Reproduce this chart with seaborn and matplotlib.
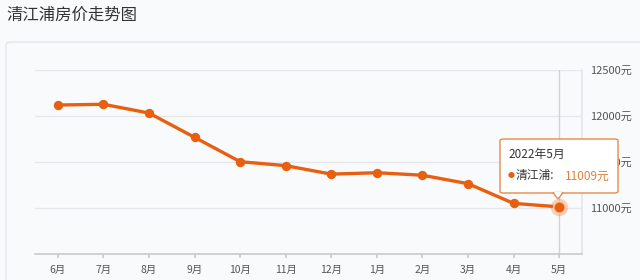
import matplotlib
matplotlib.use("Agg")
import matplotlib.pyplot as plt
import seaborn as sns
import pandas as pd
from matplotlib.patches import FancyBboxPatch, Polygon

months = ["6月", "7月", "8月", "9月", "10月", "11月", "12月", "1月", "2月", "3月", "4月", "5月"]
prices = [12116, 12124, 12029, 11765, 11500, 11457, 11365, 11380, 11353, 11261, 11047, 11009]
yticks = [11000, 11500, 12000, 12500]
title = "清江浦房价走势图"
series_name = "清江浦"
tip_title = "2022年5月"

sns.set_theme(style="white")
plt.rcParams['font.family'] = ['Noto Sans CJK SC', 'DejaVu Sans']

df = pd.DataFrame({"idx": range(len(months)), "price": prices})
color = "#e8600f"
bg = "#f9fafc"

fig = plt.figure(figsize=(6.4, 2.8), dpi=100, facecolor=bg)
# outer panel
panel = FancyBboxPatch((6/640, -0.05), 640/640, (280-42)/280 + 0.05,
                       boxstyle="round,pad=0,rounding_size=0.01",
                       transform=fig.transFigure, facecolor=bg, edgecolor="#e4e6ea", lw=1, zorder=-5)
fig.patches.append(panel)
fig.text(6/640, 1 - 15/280, title, fontsize=11.8, color="#333333", va="center", ha="left")

ax = fig.add_axes([35/640, (280-253.7)/280, (582-35)/640, (253.7-69.7)/280])
ax.set_zorder(1)
ax.patch.set_alpha(0)
sns.lineplot(data=df, x="idx", y="price", ax=ax, color=color, lw=2.4,
             marker="o", markersize=6, markeredgecolor=color, zorder=3)
last = len(months) - 1
ax.scatter([last], [prices[last]], s=160, color=color, alpha=0.25, zorder=4, linewidths=0)
ax.scatter([last], [prices[last]], s=70, color=color, zorder=5, edgecolors="#f7c9a6", linewidths=1.2)

ax.set_xlim(-0.5, len(months) - 0.5)
ax.set_ylim(10500, 12500)
for y in yticks:
    ax.axhline(y, color="#e6e7ea", lw=1, zorder=1)
ax.axvline(last, color="#d0d2d6", lw=1, zorder=2)

ax.set_xticks(range(len(months)))
ax.set_xticklabels(months, fontsize=7.5, color="#555555")
ax.yaxis.tick_right()
ax.set_yticks(yticks)
ax.set_yticklabels([f"{v}元" for v in yticks], fontsize=8, color="#555555")
ax.tick_params(axis="y", length=0, pad=6)
ax.tick_params(axis="x", length=3, color="#cccccc", direction="out", bottom=True, pad=5)
for s in ["top", "left"]:
    ax.spines[s].set_visible(False)
ax.spines["right"].set_color("#e6e7ea")
ax.spines["bottom"].set_color("#cccccc")
ax.set_xlabel("")
ax.set_ylabel("")

# tooltip
tx0, ty0, tw, th = 500/640, 1 - 193/280, 118/640, 54/280
box = FancyBboxPatch((tx0, ty0), tw, th, boxstyle="round,pad=0,rounding_size=0.006",
                     transform=fig.transFigure, facecolor="white", edgecolor="#e88a4a", lw=1, zorder=10)
fig.patches.append(box)
ax_x = 558/640
tri = Polygon([(ax_x - 5/640, ty0 + 0.5/280), (ax_x + 5/640, ty0 + 0.5/280), (ax_x, ty0 - 6/280)],
              closed=True, transform=fig.transFigure, facecolor="white", edgecolor="#e88a4a", lw=1, zorder=11)
fig.patches.append(tri)
tri2 = Polygon([(ax_x - 4.2/640, ty0 + 1.2/280), (ax_x + 4.2/640, ty0 + 1.2/280), (ax_x, ty0 - 4.5/280)],
               closed=True, transform=fig.transFigure, facecolor="white", edgecolor="none", zorder=12)
fig.patches.append(tri2)
fig.text(508/640, 1 - 154/280, tip_title, fontsize=8.5, color="#333333", va="center", zorder=13)
fig.text(508/640, 1 - 176/280, "●", fontsize=5, color=color, va="center", zorder=13)
fig.text(516/640, 1 - 176/280, f"{series_name}:", fontsize=8.5, color="#333333", va="center", zorder=13)
fig.text(565/640, 1 - 176/280, f"{prices[last]}元", fontsize=8.5, color="#d9823f", va="center", zorder=13)

fig.savefig("out.png", dpi=100, facecolor=bg)
